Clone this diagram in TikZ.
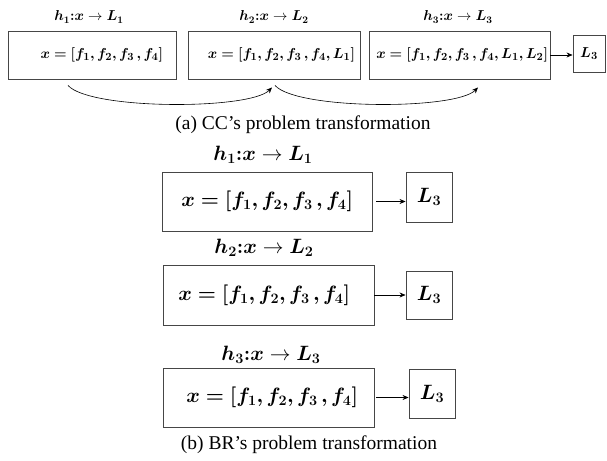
\documentclass[tikz,border=0pt]{standalone}
\usepackage{fontspec}
\setmainfont{Liberation Serif}
\usepackage{amsmath}
\usepackage{bm}
\usetikzlibrary{arrows.meta,positioning,calc}
\definecolor{boxgray}{RGB}{70,70,70}

% box text, right aligned with a right margin
\newcommand{\boxtext}[3]{\hbox to #1{\hfill$\bm{#3}$\hspace{#2}}}

\tikzset{
  fbox/.style={draw=boxgray, line width=0.9pt, inner sep=0pt},
  lbox/.style={draw=boxgray, line width=0.9pt, inner sep=0pt},
  arr/.style={-{Stealth[length=6pt,width=5pt]}, line width=0.6pt},
  smallfont/.style={font=\fontsize{14.5}{17}\selectfont},
  boxfont/.style={font=\fontsize{15}{18}\selectfont},
  bigfont/.style={font=\fontsize{19.5}{23}\selectfont},
  labfont/.style={font=\fontsize{20.5}{24}\selectfont},
  capfont/.style={font=\fontsize{19.5}{23}\selectfont}
}

\begin{document}
\begin{tikzpicture}[x=1pt,y=-1pt]
\useasboundingbox (0,0) rectangle (607,460);

% ================= (a) CC =================
\node[smallfont] (ha1) at (89,17) {$\bm{h_1{:}x}\rightarrow\bm{L_1}$};
\node[smallfont] (ha2) at (274,17) {$\bm{h_2{:}x}\rightarrow\bm{L_2}$};
\node[smallfont] (ha3) at (458,17) {$\bm{h_3{:}x}\rightarrow\bm{L_3}$};

\node[fbox, boxfont, minimum height=48pt] (a1) at (92,55)
{\boxtext{168pt}{13pt}{x=[f_1,f_2,f_3\,,f_4]}};
\node[fbox, boxfont, minimum height=48pt] (a2) at (274,55)
{\boxtext{172pt}{5pt}{x=[f_1,f_2,f_3\,,f_4,L_1]}};
\node[fbox, boxfont, minimum height=48pt] (a3) at (459.5,55)
{\boxtext{181pt}{2pt}{x=[f_1,f_2,f_3\,,f_4,L_1,L_2]}};
\node[lbox, boxfont, minimum width=32pt, minimum height=37pt] (aL) at (589,53.5) {$\bm{L_3}$};

\draw[arr] (a3.east) -- (a3.east -| aL.west);
\draw[arr] ([shift={(-24pt,-6pt)}]a1.south) .. controls (90,110) and (250,110) .. ([shift={(-2pt,-8pt)}]a2.south);
\draw[arr] ([shift={(1pt,-6pt)}]a2.south) .. controls (297,110) and (456,110) .. ([shift={(18.5pt,-8pt)}]a3.south);

\node[capfont] (capa) at (303,125) {(a) CC's problem transformation};

% ================= (b) BR =================
\node[labfont] (hb1) at (263,155) {$\bm{h_1{:}x}\rightarrow\bm{L_1}$};
\node[labfont] (hb2) at (264,248) {$\bm{h_2{:}x}\rightarrow\bm{L_2}$};
\node[labfont] (hb3) at (271,355) {$\bm{h_3{:}x}\rightarrow\bm{L_3}$};

\node[fbox, bigfont, minimum height=59pt] (b1) at (267,201.5)
{\boxtext{210pt}{19pt}{x=[f_1,f_2,f_3\,,f_4]}};
\node[fbox, bigfont, minimum height=60pt] (b2) at (268.5,295)
{\boxtext{211pt}{24pt}{x=[f_1,f_2,f_3\,,f_4]}};
\node[fbox, bigfont, minimum height=59pt] (b3) at (268.5,397.5)
{\boxtext{211pt}{16pt}{x=[f_1,f_2,f_3\,,f_4]}};

\node[lbox, bigfont, minimum width=46pt, minimum height=50pt] (bL1) at (429,197) {$\bm{L_3}$};
\node[lbox, bigfont, minimum width=46pt, minimum height=48pt] (bL2) at (429,295) {$\bm{L_3}$};
\node[lbox, bigfont, minimum width=46pt, minimum height=49pt] (bL3) at (432,393.5) {$\bm{L_3}$};

\draw[arr] ([xshift=4pt]b1.east) -- (b1.east -| bL1.west);
\draw[arr] (b2.east) -- (b2.east -| bL2.west);
\draw[arr] ([xshift=2pt]b3.east) -- (b3.east -| bL3.west);

\node[capfont] (capb) at (309,445) {(b) BR's problem transformation};

\end{tikzpicture}
\end{document}
